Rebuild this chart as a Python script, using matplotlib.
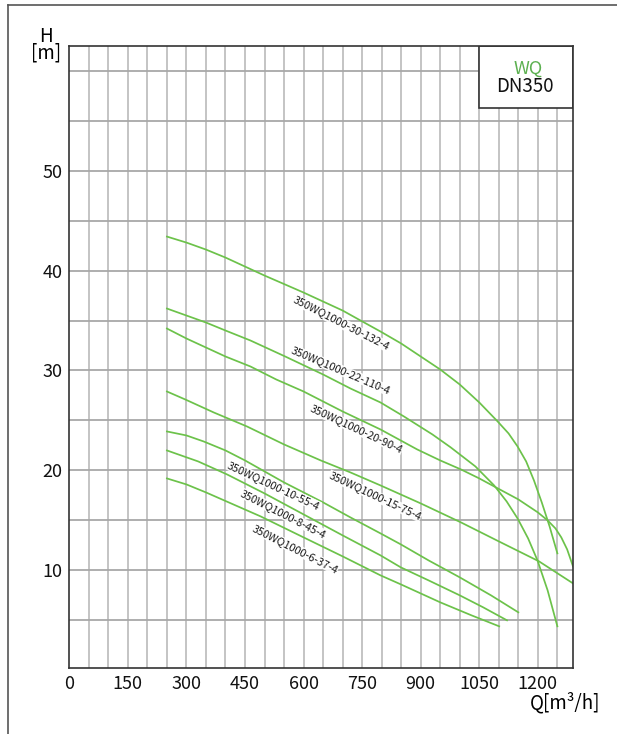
import numpy as np
import matplotlib
matplotlib.use('Agg')
import matplotlib.pyplot as plt
from matplotlib.patches import Rectangle
from matplotlib.lines import Line2D

plt.rcParams['font.family'] = ['Noto Sans CJK SC', 'DejaVu Sans']

# pump curves: Q [m3/h] and H [m]
q_30_132 = [250, 300, 350, 400, 450, 500, 553, 600, 650, 700, 746, 797, 850, 900, 950, 1000, 1050, 1097, 1125, 1148, 1170, 1190, 1210, 1230, 1250]
h_30_132 = [43.4, 42.8, 42.1, 41.3, 40.4, 39.5, 38.6, 37.8, 36.9, 36.0, 35.0, 33.9, 32.7, 31.4, 30.1, 28.6, 26.8, 24.9, 23.7, 22.4, 20.9, 19.0, 16.8, 14.4, 11.7]

q_22_110 = [250, 300, 350, 400, 464, 553, 650, 720, 797, 857, 930, 977, 1040, 1088, 1120, 1148, 1175, 1199, 1225, 1250]
h_22_110 = [36.2, 35.5, 34.8, 34.0, 33.0, 31.4, 29.6, 28.2, 26.8, 25.4, 23.6, 22.3, 20.4, 18.5, 16.9, 15.2, 13.2, 11.0, 8.0, 4.4]

q_20_90 = [250, 300, 350, 400, 464, 530, 600, 700, 797, 891, 950, 1003, 1050, 1088, 1150, 1200, 1225, 1245, 1260, 1275, 1290]
h_20_90 = [34.2, 33.2, 32.3, 31.4, 30.4, 29.1, 27.9, 25.9, 24.1, 22.1, 21.0, 20.1, 19.2, 18.4, 17.1, 15.8, 15.0, 14.2, 13.3, 12.1, 10.4]

q_15_75 = [250, 297, 370, 455, 550, 644, 720, 797, 900, 1003, 1100, 1203, 1290]
h_15_75 = [27.9, 27.1, 25.8, 24.4, 22.6, 21.0, 19.8, 18.5, 16.7, 14.8, 12.9, 10.9, 8.7]

q_10_55 = [250, 300, 344, 400, 450, 500, 550, 650, 720, 797, 849, 920, 1000, 1080, 1150]
h_10_55 = [23.9, 23.5, 22.9, 22.0, 21.0, 19.9, 18.8, 16.8, 15.3, 13.7, 12.6, 11.0, 9.3, 7.5, 5.8]

q_8_45 = [250, 330, 404, 500, 600, 700, 797, 849, 920, 1000, 1060, 1121]
h_8_45 = [22.0, 20.9, 19.6, 17.7, 15.6, 13.5, 11.5, 10.3, 9.0, 7.5, 6.3, 5.0]

q_6_37 = [250, 300, 350, 420, 490, 600, 700, 797, 849, 950, 1030, 1101]
h_6_37 = [19.2, 18.6, 17.8, 16.6, 15.4, 13.3, 11.4, 9.5, 8.6, 6.8, 5.5, 4.4]

curves = [(q_30_132, h_30_132), (q_22_110, h_22_110), (q_20_90, h_20_90),
          (q_15_75, h_15_75), (q_10_55, h_10_55), (q_8_45, h_8_45), (q_6_37, h_6_37)]

# labels: text, Q, H, angle
labels = ['350WQ1000-30-132-4', '350WQ1000-22-110-4', '350WQ1000-20-90-4',
          '350WQ1000-15-75-4', '350WQ1000-10-55-4', '350WQ1000-8-45-4', '350WQ1000-6-37-4']
label_q = [696, 694, 735, 783, 524, 548, 578]
label_h = [34.75, 30.05, 24.15, 17.45, 18.45, 15.65, 12.15]
label_rot = [-27, -23, -25, -25, -25, -27, -27]

x_ticks = [0, 150, 300, 450, 600, 750, 900, 1050, 1200]
y_ticks = [10, 20, 30, 40, 50]

green = '#6cc24a'

fig = plt.figure(figsize=(6.17, 7.34), dpi=100)
W, Hh = 617, 734
ax = fig.add_axes([69.3 / W, 1 - 668.3 / Hh, (573 - 69.3) / W, (668.3 - 45.7) / Hh])
ax.set_xlim(0, 1290)
ax.set_ylim(0.2, 62.5)

# grid
for q in np.arange(50, 1290, 50):
    ax.axvline(q, color='#c4c4c4', lw=1.4, zorder=0)
for h in np.arange(5, 62.5, 5):
    ax.axhline(h, color='#a8a8a8', lw=1.3, zorder=0)

for q, h in curves:
    ax.plot(q, h, color=green, lw=1.25, zorder=3)

for t, q, h, r in zip(labels, label_q, label_h, label_rot):
    ax.text(q, h, t, rotation=r, rotation_mode='anchor', ha='center', va='center',
            fontsize=7.8, color='#1a1a1a', zorder=4,
            bbox=dict(facecolor='white', edgecolor='none', pad=0.3, alpha=0.9))

ax.set_xticks(x_ticks)
ax.set_yticks(y_ticks)
ax.tick_params(length=0, labelsize=13, pad=5, colors='#111111')
for s in ax.spines.values():
    s.set_color('#333333')
    s.set_linewidth(1.2)
    s.set_zorder(5)

# model box
ax.add_patch(Rectangle((1050, 56.25), 240, 6.25, facecolor='white', edgecolor='#333333',
                       lw=1.2, zorder=5))
ax.text(1175, 60.2, 'WQ', color='#5cb050', fontsize=13, ha='center', va='center', zorder=6)
ax.text(1168, 58.4, 'DN350', color='#111111', fontsize=13.5, ha='center', va='center', zorder=6)

fig.text(46 / W, 1 - 37 / Hh, 'H', fontsize=13.5, ha='center', va='center')
fig.text(46 / W, 1 - 53 / Hh, '[m]', fontsize=13.5, ha='center', va='center')
fig.text(600 / W, 1 - 703 / Hh, 'Q[m³/h]', fontsize=13.5, ha='right', va='center')

# outer frame lines
fig.add_artist(Line2D([8 / W, 1], [1 - 5 / Hh, 1 - 5 / Hh], color='#555555', lw=1.2))
fig.add_artist(Line2D([8 / W, 8 / W], [0, 1 - 5 / Hh], color='#555555', lw=1.2))

fig.savefig('out.png', dpi=100)
